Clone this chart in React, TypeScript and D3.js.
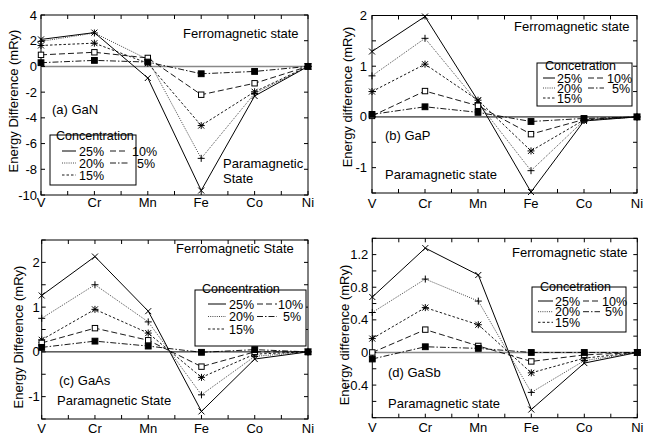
import React from "react";
import * as d3 from "d3";

// ---------- data ----------
const elements = ["V", "Cr", "Mn", "Fe", "Co", "Ni"];
const concentrationLabels = ["25%", "20%", "15%", "10%", "5%"];

// (a) GaN
const ganC25 = [2.1, 2.63, -0.9, -9.65, -2.3, 0];
const ganC20 = [1.95, 2.6, 0.55, -7.15, -2.1, 0];
const ganC15 = [1.63, 1.81, 0.25, -4.6, -1.97, 0];
const ganC10 = [0.9, 1.1, 0.66, -2.2, -1.31, 0];
const ganC05 = [0.29, 0.47, 0.34, -0.57, -0.39, 0];

// (b) GaP
const gapC25 = [1.29, 1.98, 0.32, -1.48, -0.08, 0];
const gapC20 = [0.81, 1.55, 0.28, -1.06, -0.07, 0];
const gapC15 = [0.5, 1.04, 0.33, -0.67, -0.06, 0];
const gapC10 = [0.02, 0.51, 0.22, -0.34, -0.05, 0];
const gapC05 = [0.05, 0.2, 0.09, -0.09, -0.03, 0];

// (c) GaAs
const gaasC25 = [1.26, 2.13, 0.91, -1.33, -0.16, 0];
const gaasC20 = [0.75, 1.5, 0.67, -0.96, -0.1, 0];
const gaasC15 = [0.27, 0.95, 0.42, -0.57, -0.05, 0];
const gaasC10 = [0.2, 0.53, 0.26, -0.33, 0.0, 0];
const gaasC05 = [0.1, 0.24, 0.13, -0.01, 0.05, 0];

// (d) GaSb
const gasbC25 = [0.68, 1.28, 0.95, -0.7, -0.13, 0];
const gasbC20 = [0.49, 0.9, 0.63, -0.49, -0.1, 0];
const gasbC15 = [0.17, 0.55, 0.34, -0.25, -0.07, 0];
const gasbC10 = [0.0, 0.28, 0.08, -0.11, -0.03, 0];
const gasbC05 = [-0.08, 0.07, 0.05, 0.0, 0.0, 0];

// tick values / labels
const ganDomain = [-10, 4];
const ganTicks = [4, 2, 0, -2, -4, -6, -8, -10];
const ganTickLabels = ["4", "2", "0", "-2", "-4", "-6", "-8", "-10"];

const gapDomain = [-1.5, 2];
const gapTicks = [2, 1.5, 1, 0.5, 0, -0.5, -1, -1.5];
const gapLabelValues = [2, 1, 0, -1];
const gapTickLabels = ["2", "1", "0", "-1"];

const gaasDomain = [-1.5, 2.5];
const gaasTicks = [2.5, 2, 1.5, 1, 0.5, 0, -0.5, -1, -1.5];
const gaasLabelValues = [2, 1, 0, -1];
const gaasTickLabels = ["2", "1", "0", "-1"];

const gasbDomain = [-0.8, 1.4];
const gasbTicks = [1.4, 1.2, 1.0, 0.8, 0.6, 0.4, 0.2, 0, -0.2, -0.4, -0.6, -0.8];
const gasbLabelValues = [1.2, 0.8, 0.4, 0, -0.4];
const gasbTickLabels = ["1.2", "0.8", "0.4", "0", "-0.4"];

// ---------- styles ----------
const FONT = "'Liberation Sans', Arial, Helvetica, sans-serif";
const seriesStyles = [
  { dash: "", marker: "x", color: "#000", width: 1 },
  { dash: "1,1.2", marker: "+", color: "#333", width: 0.9 },
  { dash: "2.5,2", marker: "*", color: "#000", width: 0.9 },
  { dash: "6,3", marker: "sq", color: "#000", width: 0.9 },
  { dash: "6,2,1.5,2", marker: "fsq", color: "#000", width: 0.9 },
];

function Marker({ type, cx, cy }: { type: string; cx: number; cy: number }) {
  const s = 3;
  if (type === "x")
    return (
      <path d={`M${cx - s},${cy - s}L${cx + s},${cy + s}M${cx - s},${cy + s}L${cx + s},${cy - s}`} stroke="#000" strokeWidth={1} />
    );
  if (type === "+")
    return (
      <path d={`M${cx - 3.5},${cy}L${cx + 3.5},${cy}M${cx},${cy - 3.5}L${cx},${cy + 3.5}`} stroke="#000" strokeWidth={1} />
    );
  if (type === "*")
    return (
      <path
        d={`M${cx - s},${cy - s}L${cx + s},${cy + s}M${cx - s},${cy + s}L${cx + s},${cy - s}M${cx - 3.5},${cy}L${cx + 3.5},${cy}M${cx},${cy - 3.5}L${cx},${cy + 3.5}`}
        stroke="#000"
        strokeWidth={1}
      />
    );
  if (type === "sq") return <rect x={cx - 2.7} y={cy - 2.7} width={5.4} height={5.4} fill="#fff" stroke="#000" strokeWidth={1} />;
  return <rect x={cx - 2.9} y={cy - 2.9} width={5.8} height={5.8} fill="#000" stroke="#000" strokeWidth={1} />;
}

type Txt = { x: number; y: number; t: string };
type PanelCfg = {
  left: number; right: number; top: number; bottom: number;
  domain: number[];
  series: number[][];
  ticks: number[];
  labelValues: number[];
  labels: string[];
  labelGap: number;
  xLabelY: number;
  ylabel: string; ylabelX: number; ylabelY: number;
  zeroColor: string; zeroWidth: number;
  texts: Txt[];
  legend: {
    box: number[]; title: string; titleX: number; titleY: number;
    rows: number[]; c1: number[]; t1: number; c2: number[]; t2: number[];
  };
};

function Panel({ cfg }: { cfg: PanelCfg }) {
  const x = d3.scalePoint<string>().domain(elements).range([cfg.left, cfg.right]).padding(0);
  const y = d3.scaleLinear().domain(cfg.domain).range([cfg.bottom, cfg.top]);
  const line = d3
    .line<number>()
    .x((_, i) => x(elements[i]) as number)
    .y((d) => y(d));
  const xt: number[] = [];
  elements.forEach((e, i) => {
    const p = x(e) as number;
    xt.push(p);
    if (i < elements.length - 1) xt.push((p + (x(elements[i + 1]) as number)) / 2);
  });
  const tl = 4;
  const lg = cfg.legend;
  const legendPos = [
    [0, 0], [1, 0], [2, 0], [0, 1], [1, 1],
  ];
  return (
    <g>
      <rect x={cfg.left} y={cfg.top} width={cfg.right - cfg.left} height={cfg.bottom - cfg.top} fill="none" stroke="#000" strokeWidth={1} />
      <line x1={cfg.left} x2={cfg.right} y1={y(0)} y2={y(0)} stroke={cfg.zeroColor} strokeWidth={cfg.zeroWidth} />
      {xt.map((p, i) => (
        <g key={"xt" + i}>
          <line x1={p} x2={p} y1={cfg.bottom} y2={cfg.bottom - tl} stroke="#000" />
          <line x1={p} x2={p} y1={cfg.top} y2={cfg.top + tl} stroke="#000" />
        </g>
      ))}
      {cfg.ticks.map((v, i) => (
        <g key={"yt" + i}>
          <line x1={cfg.left} x2={cfg.left + tl} y1={y(v)} y2={y(v)} stroke="#000" />
          <line x1={cfg.right} x2={cfg.right - tl} y1={y(v)} y2={y(v)} stroke="#000" />
        </g>
      ))}
      {cfg.labelValues.map((v, i) => (
        <text key={"yl" + i} x={cfg.left - cfg.labelGap} y={y(v) + 4.5} textAnchor="end" fontSize={13} fontFamily={FONT}>
          {cfg.labels[i]}
        </text>
      ))}
      {elements.map((e) => (
        <text key={"xl" + e} x={x(e) as number} y={cfg.xLabelY} textAnchor="middle" fontSize={13} fontFamily={FONT}>
          {e}
        </text>
      ))}
      <text
        transform={`translate(${cfg.ylabelX},${cfg.ylabelY}) rotate(-90)`}
        textAnchor="middle"
        dominantBaseline="central"
        fontSize={13}
        fontFamily={FONT}
      >
        {cfg.ylabel}
      </text>
      {cfg.series.map((s, k) => (
        <path
          key={"s" + k}
          d={line(s) || ""}
          fill="none"
          stroke={seriesStyles[k].color}
          strokeWidth={seriesStyles[k].width}
          strokeDasharray={seriesStyles[k].dash || undefined}
        />
      ))}
      {cfg.series.map((s, k) =>
        s.map((v, i) => <Marker key={"m" + k + "_" + i} type={seriesStyles[k].marker} cx={x(elements[i]) as number} cy={y(v)} />)
      )}
      {cfg.texts.map((t, i) => (
        <text key={"t" + i} x={t.x} y={t.y} fontSize={13} fontFamily={FONT}>
          {t.t}
        </text>
      ))}
      <rect x={lg.box[0]} y={lg.box[1]} width={lg.box[2] - lg.box[0]} height={lg.box[3] - lg.box[1]} fill="#fff" stroke="#000" strokeWidth={1} />
      <text x={lg.titleX} y={lg.titleY} fontSize={12.5} fontFamily={FONT}>
        {lg.title}
      </text>
      {concentrationLabels.map((lab, k) => {
        const [r, c] = legendPos[k];
        const ry = lg.rows[r];
        const seg = c === 0 ? lg.c1 : lg.c2;
        const tx = c === 0 ? lg.t1 : lg.t2[r];
        const st = seriesStyles[k];
        return (
          <g key={"lg" + k}>
            <line x1={seg[0]} x2={seg[1]} y1={ry} y2={ry} stroke={st.color} strokeWidth={st.width} strokeDasharray={st.dash || undefined} />
            <text x={tx} y={ry + 4.5} fontSize={12.5} fontFamily={FONT}>
              {lab}
            </text>
          </g>
        );
      })}
    </g>
  );
}

const panels: PanelCfg[] = [
  {
    left: 41, right: 308, top: 15, bottom: 195,
    domain: ganDomain,
    series: [ganC25, ganC20, ganC15, ganC10, ganC05],
    ticks: ganTicks, labelValues: ganTicks, labels: ganTickLabels, labelGap: 4,
    xLabelY: 207,
    ylabel: "Energy Difference (mRy)", ylabelX: 13, ylabelY: 101,
    zeroColor: "#888", zeroWidth: 1.6,
    texts: [
      { x: 183, y: 38, t: "Ferromagnetic state" },
      { x: 52, y: 114, t: "(a) GaN" },
      { x: 223, y: 168, t: "Paramagnetic" },
      { x: 223, y: 183, t: "State" },
    ],
    legend: {
      box: [50, 135, 136, 185], title: "Concentration", titleX: 56, titleY: 140,
      rows: [151, 163, 175], c1: [62, 76], t1: 79, c2: [110, 128], t2: [132, 137],
    },
  },
  {
    left: 372, right: 637, top: 15.5, bottom: 193,
    domain: gapDomain,
    series: [gapC25, gapC20, gapC15, gapC10, gapC05],
    ticks: gapTicks, labelValues: gapLabelValues, labels: gapTickLabels, labelGap: 5,
    xLabelY: 208,
    ylabel: "Energy difference (mRy)", ylabelX: 347, ylabelY: 97,
    zeroColor: "#000", zeroWidth: 1,
    texts: [
      { x: 514, y: 31, t: "Ferromagnetic state" },
      { x: 385, y: 140, t: "(b) GaP" },
      { x: 385, y: 179, t: "Paramagnetic state" },
    ],
    legend: {
      box: [537, 63, 632, 106], title: "Concetration", titleX: 545, titleY: 70,
      rows: [78, 88, 98], c1: [543, 555], t1: 557, c2: [588, 604], t2: [607, 612],
    },
  },
  {
    left: 41.7, right: 308, top: 240, bottom: 419,
    domain: gaasDomain,
    series: [gaasC25, gaasC20, gaasC15, gaasC10, gaasC05],
    ticks: gaasTicks, labelValues: gaasLabelValues, labels: gaasTickLabels, labelGap: 2,
    xLabelY: 433,
    ylabel: "Energy Difference (mRy)", ylabelX: 18, ylabelY: 337,
    zeroColor: "#000", zeroWidth: 1,
    texts: [
      { x: 176, y: 253, t: "Ferromagnetic State" },
      { x: 59, y: 385, t: "(c) GaAs" },
      { x: 57, y: 405, t: "Paramagnetic State" },
    ],
    legend: {
      box: [195, 290, 306, 346], title: "Concentration", titleX: 202, titleY: 293,
      rows: [304, 316.5, 329], c1: [208, 226], t1: 229, c2: [257, 277], t2: [278, 283],
    },
  },
  {
    left: 372.3, right: 637.3, top: 238.3, bottom: 417.7,
    domain: gasbDomain,
    series: [gasbC25, gasbC20, gasbC15, gasbC10, gasbC05],
    ticks: gasbTicks, labelValues: gasbLabelValues, labels: gasbTickLabels, labelGap: 4,
    xLabelY: 432,
    ylabel: "Energy difference (mRy)", ylabelX: 344, ylabelY: 335,
    zeroColor: "#888", zeroWidth: 1.6,
    texts: [
      { x: 512, y: 257, t: "Ferromagnetic state" },
      { x: 388, y: 377, t: "(d) GaSb" },
      { x: 388, y: 408, t: "Paramagnetic state" },
    ],
    legend: {
      box: [532, 287, 626, 332], title: "Concetration", titleX: 540, titleY: 291,
      rows: [301, 311.7, 322.3], c1: [538, 553], t1: 555, c2: [583, 600], t2: [602, 605],
    },
  },
];

export default function App() {
  return (
    <svg width={645} height={434} viewBox="0 0 645 434" style={{ position: "absolute", left: 0, top: 0, background: "#fff" }}>
      <rect x={0} y={0} width={645} height={434} fill="#fff" />
      {panels.map((p, i) => (
        <Panel key={i} cfg={p} />
      ))}
    </svg>
  );
}
